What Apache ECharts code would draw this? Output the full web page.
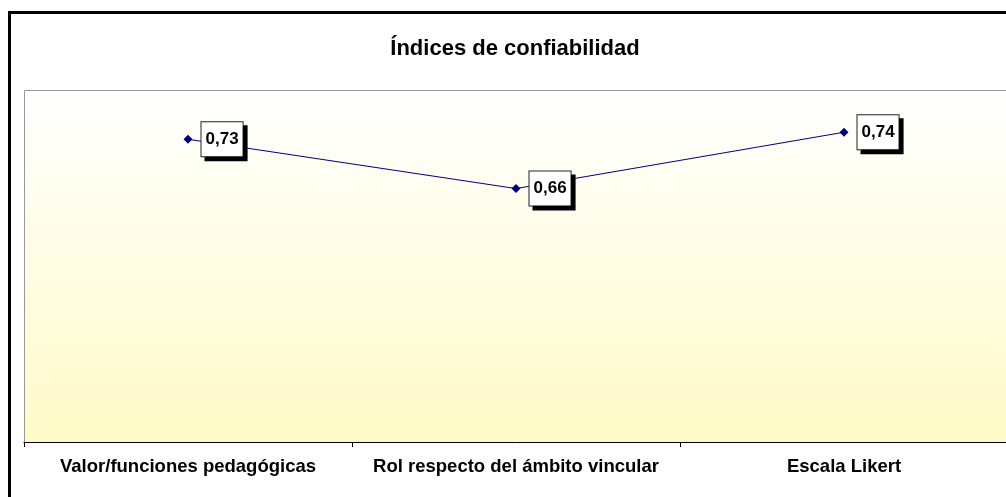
<!DOCTYPE html>
<html>
<head>
<meta charset="utf-8">
<script src="https://cdn.jsdelivr.net/npm/echarts@6/dist/echarts.min.js"></script>
<style>
  html, body { margin: 0; padding: 0; background: #fff; }
  #main { width: 1006px; height: 497px; }
</style>
</head>
<body>
<div id="main"></div>
<script>
// datos del gráfico
var categorias = ['Valor/funciones pedagógicas', 'Rol respecto del ámbito vincular', 'Escala Likert'];
var indices = [0.73, 0.66, 0.74];

var chart = echarts.init(document.getElementById('main'));

var option = {
  animation: false,
  title: {
    text: 'Índices de confiabilidad',
    left: 510,
    textAlign: 'center',
    top: 33,
    textStyle: {
      fontFamily: 'Liberation Sans, Arial',
      fontWeight: 'bold',
      fontSize: 22,
      color: '#000'
    }
  },
  graphic: [
    // marco exterior
    {
      type: 'rect',
      silent: true,
      shape: { x: 9.5, y: 12.5, width: 1010, height: 500 },
      style: { fill: null, stroke: '#000', lineWidth: 3 }
    },
    // borde gris del área de trazado (arriba e izquierda)
    {
      type: 'polyline',
      silent: true,
      z: 10,
      shape: { points: [[24.5, 442], [24.5, 90.5], [1010, 90.5]] },
      style: { fill: null, stroke: '#999', lineWidth: 1 }
    }
  ],
  grid: {
    left: 24,
    top: 90,
    width: 984,
    bottom: 55,
    outerBoundsMode: 'none',
    show: true,
    borderWidth: 0,
    backgroundColor: new echarts.graphic.LinearGradient(0, 0, 0, 1, [
      { offset: 0, color: '#ffffff' },
      { offset: 1, color: '#fffbc8' }
    ])
  },
  xAxis: {
    type: 'category',
    data: categorias,
    boundaryGap: true,
    axisLine: { lineStyle: { color: '#000', width: 1 } },
    axisTick: { show: true, length: 5, lineStyle: { color: '#000' } },
    axisLabel: {
      interval: 0,
      hideOverlap: false,
      margin: 15,
      color: '#000',
      fontFamily: 'Liberation Sans, Arial',
      fontWeight: 'bold',
      fontSize: 18.5
    }
  },
  yAxis: {
    type: 'value',
    min: 0.3,
    max: 0.8,
    show: false,
    splitLine: { show: false }
  },
  series: [
    {
      type: 'line',
      data: indices,
      symbol: 'diamond',
      symbolSize: 9,
      lineStyle: { color: '#000080', width: 1 },
      itemStyle: { color: '#000080' },
      label: {
        show: true,
        position: 'right',
        distance: 9,
        formatter: function (p) { return p.value.toFixed(2).replace('.', ','); },
        color: '#000',
        fontFamily: 'Liberation Sans, Arial',
        fontWeight: 'bold',
        fontSize: 17,
        backgroundColor: '#fff',
        borderColor: '#222',
        borderWidth: 1,
        padding: [9, 4, 8, 4],
        shadowColor: '#000',
        shadowBlur: 0,
        shadowOffsetX: 4,
        shadowOffsetY: 4
      }
    }
  ]
};

chart.setOption(option);
</script>
</body>
</html>
